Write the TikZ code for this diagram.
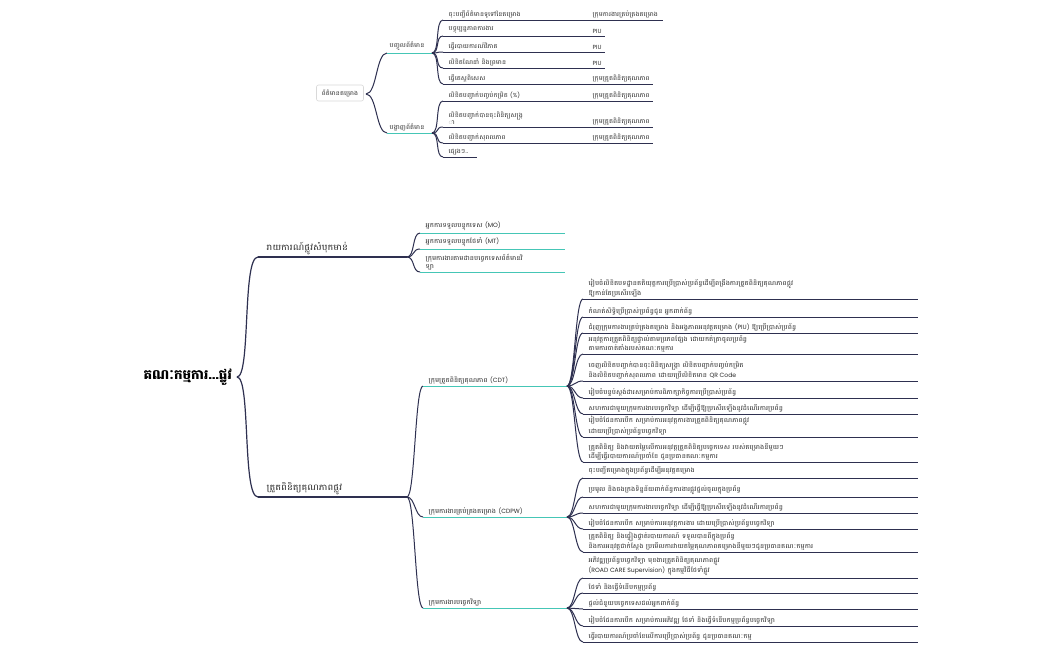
\documentclass[tikz,border=0pt]{standalone}
\usepackage{fontspec}
\newfontfamily\kh[Script=Khmer, FakeStretch=1.16]{Battambang}
\newfontfamily\khroot[Script=Khmer]{Battambang}
\newfontfamily\latfont[Scale=1.0]{Poppins}
\newcommand\ltn[1]{{\latfont #1}}
\definecolor{navy}{HTML}{2E3050}
\definecolor{teal}{HTML}{45C6B6}
\definecolor{txt}{HTML}{2A2A2A}
\tikzset{
  edge/.style={draw=navy, line width=1pt},
  uline/.style={draw=navy, line width=1pt},
  tline/.style={draw=teal, line width=1pt},
  leaftext/.style={font=\kh\fontsize{6.1}{7.2}\selectfont, text=txt, inner sep=0.5pt, align=left, anchor=south west},
  smalltext/.style={font=\kh\fontsize{5.9}{7.2}\selectfont, text=txt, inner sep=0.5pt, align=left, anchor=south west},
  bigtext/.style={font=\kh\fontsize{8.4}{10}\selectfont, text=txt, inner sep=0.5pt, anchor=south west},
}
% #1 name, #2 parent, #3 x start, #4 y, #5 x end, #6 style of line, #7 text style, #8 text
\newcommand\mmleaf[8]{%
  \coordinate (#1s) at (#3,#4);
  \coordinate (#1e) at (#5,#4);
  \draw[edge] (#2) .. controls +(8,0) and +(-8,0) .. (#1s);
  \draw[#6] (#1s) -- (#1e);
  \node[#7] (#1) at ([shift={(5,-1.5)}]#1s) {#8};}
\begin{document}
\begin{tikzpicture}[x=1pt,y=-1pt]
\useasboundingbox[fill=white] (0,0) rectangle (1050,651);

%% ---------------- top map ----------------
\node[draw=black!15, rounded corners=2pt, line width=0.6pt, fill=white, minimum width=47pt, minimum height=16pt, inner sep=2pt, font=\kh\fontsize{5.8}{7}\selectfont, text=txt] (troot) at (340,93) {ព័ត៌មានគម្រោង};
\coordinate (tr) at (366,94);
\coordinate (b1s) at (387,53); \coordinate (b1e) at (432,53);
\coordinate (b2s) at (387,133); \coordinate (b2e) at (432,133);
\draw[edge] (tr) .. controls +(11,0) and +(-11,0) .. (b1s);
\draw[edge] (tr) .. controls +(11,0) and +(-11,0) .. (b2s);
\draw[tline] (b1s) -- (b1e);
\draw[tline] (b2s) -- (b2e);
\node[smalltext] (b1) at ([shift={(2,-1.5)}]b1s) {បញ្ចូលព័ត៌មាន};
\node[smalltext] (b2) at ([shift={(2,-1.5)}]b2s) {បង្ហាញព័ត៌មាន};

\mmleaf{t1}{b1e}{443}{20}{663}{uline}{smalltext}{ចុះបញ្ជីព័ត៌មានទូទៅនៃគម្រោង}
\mmleaf{t2}{b1e}{443}{36}{605}{uline}{smalltext}{បច្ចុប្បន្នភាពការងារ}
\mmleaf{t3}{b1e}{443}{52}{605}{uline}{smalltext}{ធ្វើរបាយការណ៍វិភាគ}
\mmleaf{t4}{b1e}{443}{68}{605}{uline}{smalltext}{លិខិតណែនាំ និងព្រមាន}
\mmleaf{t5}{b1e}{443}{84}{653}{uline}{smalltext}{ធ្វើតេស្តពិសេស}
\mmleaf{t6}{b2e}{443}{101}{653}{uline}{smalltext}{លិខិតបញ្ជាក់បញ្ចប់កម្រិត \ltn{(\%)}}
\mmleaf{t7}{b2e}{443}{127}{653}{uline}{smalltext}{លិខិតបញ្ជាក់បានចុះពិនិត្យសង្ក្រ\\ា}
\mmleaf{t8}{b2e}{443}{143}{653}{uline}{smalltext}{លិខិតបញ្ជាក់សុពលភាព}
\mmleaf{t9}{b2e}{443}{157}{477}{uline}{smalltext}{ផ្សេងៗ..}

\node[smalltext] (r1) at (592,18.5) {ក្រុមការងារគ្រប់គ្រងគម្រោង};
\node[smalltext] (r2) at (592,34.5) {\ltn{PIU}};
\node[smalltext] (r3) at (592,50.5) {\ltn{PIU}};
\node[smalltext] (r4) at (592,66.5) {\ltn{PIU}};
\node[smalltext] (r5) at (592,82.5) {ក្រុមត្រួតពិនិត្យគុណភាព};
\node[smalltext] (r6) at (592,99.5) {ក្រុមត្រួតពិនិត្យគុណភាព};
\node[smalltext] (r7) at (592,125.5) {ក្រុមត្រួតពិនិត្យគុណភាព};
\node[smalltext] (r8) at (592,141.5) {ក្រុមត្រួតពិនិត្យគុណភាព};

%% ---------------- bottom map ----------------
\node[font=\khroot\bfseries\fontsize{13.5}{16}\selectfont, text=black, inner sep=1pt, anchor=east] (root) at (233,377) {គណៈកម្មការ...ផ្លូវ};
\coordinate (rp) at (237,377);
\coordinate (As) at (258,257); \coordinate (Ae) at (407,257);
\coordinate (Bs) at (258,497); \coordinate (Be) at (407,497);
\draw[edge, line width=1.2pt] (rp) .. controls +(14,0) and +(-16,0) .. (As);
\draw[edge, line width=1.2pt] (rp) .. controls +(14,0) and +(-16,0) .. (Bs);
\draw[uline, line width=1.2pt] (As) -- (Ae);
\draw[uline, line width=1.2pt] (Bs) -- (Be);
\node[bigtext] (A) at ([shift={(8,-1.5)}]As) {រាយការណ៍ផ្លូវសំបុកមាន់};
\node[bigtext] (B) at ([shift={(8,-1.5)}]Bs) {ត្រួតពិនិត្យគុណភាពផ្លូវ};

\mmleaf{a1}{Ae}{420}{233}{565}{tline}{leaftext}{អ្នកការទទួលបន្ទុកទេស \ltn{(MO)}}
\mmleaf{a2}{Ae}{420}{249}{565}{tline}{leaftext}{អ្នកការទទួលបន្ទុកថែទាំ \ltn{(MT)}}
\mmleaf{a3}{Ae}{420}{272}{565}{tline}{leaftext}{ក្រុមការងារតាមដានបច្ចេកទេសព័ត៌មានវិ\\ទ្យា}

\mmleaf{g}{Be}{423}{386}{567}{tline}{leaftext}{ក្រុមត្រួតពិនិត្យគុណភាព \ltn{(CDT)}}
\mmleaf{c}{Be}{423}{517}{567}{tline}{leaftext}{ក្រុមការងារគ្រប់គ្រងគម្រោង \ltn{(CDPW)}}
\mmleaf{p}{Be}{423}{608}{567}{tline}{leaftext}{ក្រុមការងារបច្ចេកវិទ្យា}

\mmleaf{g1}{ge}{583}{299}{918}{uline}{leaftext}{រៀបចំលិខិតបទដ្ឋានគតិយុត្តការប្រើប្រាស់ប្រព័ន្ធដើម្បីពង្រឹងការត្រួតពិនិត្យគុណភាពផ្លូវ\\ឱ្យកាន់តែប្រសើរឡើង}
\mmleaf{g2}{ge}{583}{317}{918}{uline}{leaftext}{កំណត់សិទ្ធិប្រើប្រាស់ប្រព័ន្ធជូន អ្នកពាក់ព័ន្ធ}
\mmleaf{g3}{ge}{583}{333}{918}{uline}{leaftext}{ជំរុញក្រុមការងារគ្រប់គ្រងគម្រោង និងអង្គភាពអនុវត្តគម្រោង \ltn{(PIU)} ឱ្យប្រើប្រាស់ប្រព័ន្ធ}
\mmleaf{g4}{ge}{583}{354}{918}{uline}{leaftext}{អនុវត្តការត្រួតពិនិត្យផ្ទាល់តាមប្រភពផ្សែង ដោយកត់ត្រាចូលប្រព័ន្ធ\\តាមការចាត់តាំងរបស់គណៈកម្មការ}
\mmleaf{g5}{ge}{583}{381}{918}{uline}{leaftext}{ចេញលិខិតបញ្ជាក់បានចុះពិនិត្យសង្ក្រា លិខិតបញ្ជាក់បញ្ចប់កម្រិត\\និងលិខិតបញ្ជាក់សុពលភាព ដោយប្រើលិខិតមាន \ltn{QR Code}}
\mmleaf{g6}{ge}{583}{398}{918}{uline}{leaftext}{រៀបចំបន្ទប់ស្តង់ដារសម្រាប់ការពិភាក្សាកិច្ចការប្រើប្រាស់ប្រព័ន្ធ}
\mmleaf{g7}{ge}{583}{414}{918}{uline}{leaftext}{សហការជាមួយក្រុមការងារបច្ចេកវិទ្យា ដើម្បីធ្វើឱ្យប្រសើរឡើងនូវដំណើរការប្រព័ន្ធ}
\mmleaf{g8}{ge}{583}{437}{918}{uline}{leaftext}{រៀបចំផែនការបើក សម្រាប់ការអនុវត្តការងារត្រួតពិនិត្យគុណភាពផ្លូវ\\ដោយប្រើប្រាស់ប្រព័ន្ធបច្ចេកវិទ្យា}
\mmleaf{g9}{ge}{583}{462}{918}{uline}{leaftext}{ត្រួតពិនិត្យ និងវាយតម្លៃលើការអនុវត្តត្រួតពិនិត្យបច្ចេកទេស របស់គម្រោងនីមួយៗ\\ដើម្បីធ្វើរបាយការណ៍ប្រចាំខែ ជូនប្រធានគណៈកម្មការ}

\mmleaf{c1}{ce}{583}{478}{918}{uline}{leaftext}{ចុះបញ្ជីគម្រោងក្នុងប្រព័ន្ធដើម្បីអនុវត្តគម្រោង}
\mmleaf{c2}{ce}{583}{497}{918}{uline}{leaftext}{ប្រមូល និងចងក្រងទិន្នន័យពាក់ព័ន្ធការងារផ្លូវថ្នល់ចូលក្នុងប្រព័ន្ធ}
\mmleaf{c3}{ce}{583}{513}{918}{uline}{leaftext}{សហការជាមួយក្រុមការងារបច្ចេកវិទ្យា ដើម្បីធ្វើឱ្យប្រសើរឡើងនូវដំណើរការប្រព័ន្ធ}
\mmleaf{c4}{ce}{583}{529}{918}{uline}{leaftext}{រៀបចំផែនការបើក សម្រាប់ការអនុវត្តការងារ ដោយប្រើប្រាស់ប្រព័ន្ធបច្ចេកវិទ្យា}
\mmleaf{c5}{ce}{583}{552}{918}{uline}{leaftext}{ត្រួតពិនិត្យ និងផ្ទៀងផ្ទាត់របាយការណ៍ ទទួលបានពីក្នុងប្រព័ន្ធ\\និងការអនុវត្តជាក់ស្តែង ប្រមើលការវាយតម្លៃគុណភាពគម្រោងនីមួយៗជូនប្រធានគណៈកម្មការ}

\mmleaf{p1}{pe}{583}{578}{918}{uline}{leaftext}{អភិវឌ្ឍប្រព័ន្ធបច្ចេកវិទ្យា មុខងារត្រួតពិនិត្យគុណភាពផ្លូវ\\\ltn{(ROAD CARE Supervision)} ក្នុងកម្មវិធីថែទាំផ្លូវ}
\mmleaf{p2}{pe}{583}{593}{918}{uline}{leaftext}{ថែទាំ និងធ្វើទំនើបកម្មប្រព័ន្ធ}
\mmleaf{p3}{pe}{583}{609}{918}{uline}{leaftext}{ផ្តល់ជំនួយបច្ចេកទេសដល់អ្នកពាក់ព័ន្ធ}
\mmleaf{p4}{pe}{583}{626}{918}{uline}{leaftext}{រៀបចំផែនការបើក សម្រាប់ការអភិវឌ្ឍ ថែទាំ និងធ្វើទំនើបកម្មប្រព័ន្ធបច្ចេកវិទ្យា}
\mmleaf{p5}{pe}{583}{642}{918}{uline}{leaftext}{ធ្វើរបាយការណ៍ប្រចាំខែលើការប្រើប្រាស់ប្រព័ន្ធ ជូនប្រធានគណៈកម្ម}
\end{tikzpicture}
\end{document}
